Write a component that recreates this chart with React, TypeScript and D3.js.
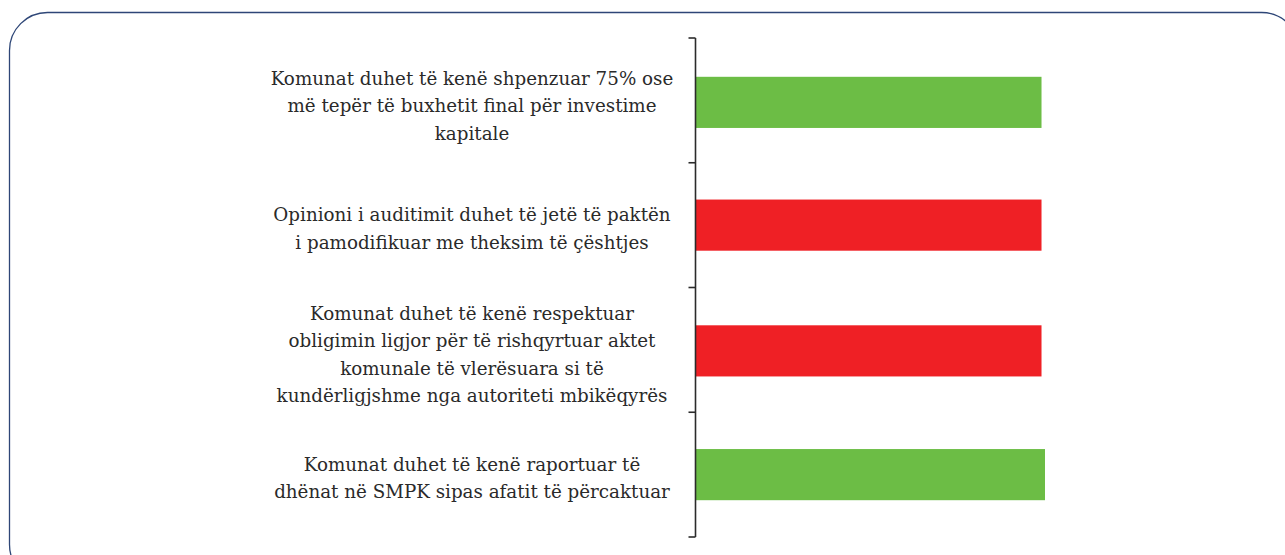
import React from "react";
import * as d3 from "d3";

const categories: string[][] = [
  ["Komunat duhet të kenë shpenzuar 75% ose", "më tepër të buxhetit final për investime", "kapitale"],
  ["Opinioni i auditimit duhet të jetë të paktën", "i pamodifikuar me theksim të çështjes"],
  ["Komunat duhet të kenë respektuar", "obligimin ligjor për të rishqyrtuar aktet", "komunale të vlerësuara si të", "kundërligjshme nga autoriteti mbikëqyrës"],
  ["Komunat duhet të kenë raportuar të", "dhënat në SMPK sipas afatit të përcaktuar"],
];
const values: number[] = [99, 99, 99, 100];
const statuses: string[] = ["met", "notMet", "notMet", "met"];

const W = 1285;
const H = 555;
const axisX = 695.5;
const top = 38;
const bottom = 537;
const xEnd = 1045;
const labelX = 472;
const lineH = 27.5;
const colorMap: Record<string, string> = { met: "#6cbd45", notMet: "#ef2025" };

export default function App() {
  const ids = categories.map((_, i) => String(i));
  const y = d3.scaleBand<string>().domain(ids).range([top, bottom]).paddingInner(0.59).paddingOuter(0.295);
  const yOuter = d3.scaleBand<string>().domain(ids).range([top, bottom]);
  const x = d3.scaleLinear().domain([0, 100]).range([axisX + 0.5, xEnd]);
  const ticks = d3.range(categories.length + 1).map((i) => top + i * yOuter.step());
  const offsets = [2, 0, 1, 0];

  return (
    <svg width={W} height={H} style={{ position: "absolute", left: 0, top: 0 }}>
      <rect x={9.5} y={12.5} width={1290} height={570} rx={38} ry={38} fill="#fff" stroke="#2e4677" strokeWidth={1.3} />
      {ids.map((id, i) => (
        <rect key={id} x={x(0)} y={(y(id) as number) + offsets[i]} width={x(values[i]) - x(0)} height={y.bandwidth()} fill={colorMap[statuses[i]]} />
      ))}
      <line x1={axisX} x2={axisX} y1={top} y2={bottom} stroke="#2b2b2b" strokeWidth={1.6} />
      {ticks.map((t, i) => (
        <line key={i} x1={axisX - 7} x2={axisX} y1={t} y2={t} stroke="#2b2b2b" strokeWidth={1.6} />
      ))}
      {categories.map((lines, i) => {
        const cy = (yOuter(ids[i]) as number) + yOuter.bandwidth() / 2 + 3 + offsets[i];
        const start = cy - ((lines.length - 1) * lineH) / 2;
        return (
          <text key={i} textAnchor="middle" fontFamily="'DejaVu Serif', serif" fontSize={18.3} fill="#2a2a2a" dominantBaseline="central">
            {lines.map((l, j) => (
              <tspan key={j} x={labelX} y={start + j * lineH}>{l}</tspan>
            ))}
          </text>
        );
      })}
    </svg>
  );
}
